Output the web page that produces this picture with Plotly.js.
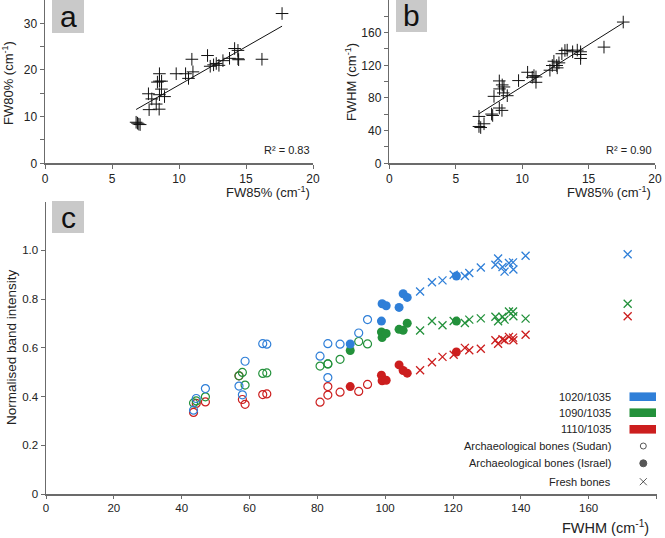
<!DOCTYPE html>
<html>
<head>
<meta charset="utf-8">
<script src="https://cdn.plot.ly/plotly-3.0.1.min.js"></script>
<style>
  html, body { margin: 0; padding: 0; background: #fff; }
  #plot { width: 665px; height: 538px; }
</style>
</head>
<body>
<div id="plot"></div>
<script>
// ---------- panel a : FW80% vs FW85% ----------
const aX = [6.8, 6.9, 7.0, 7.1, 7.72, 7.77, 7.97, 8.30, 8.39, 8.54, 8.54, 8.54, 8.52, 8.69, 8.92, 8.7,
            9.79, 10.49, 10.71, 10.96, 11.04, 12.13, 12.33, 12.58, 12.78, 12.98, 13.28, 13.77,
            14.15, 14.40, 14.40, 14.45, 16.19, 17.69];
const aY = [8.8, 8.6, 8.4, 8.3, 14.9, 11.5, 13.8, 12.7, 17.4, 19.2, 17.6, 14.7, 11.6, 15.9, 14.3, 17.6,
            19.2, 19.2, 18.2, 22.3, 19.6, 23.1, 20.8, 21.1, 21.4, 21.0, 22.0, 22.5,
            24.6, 24.2, 22.4, 22.2, 22.3, 32.1];
const fitA = { slope: 1.64, intercept: 0.38, r2: "0.83" };

// ---------- panel b : FWHM vs FW85% ----------
const bX = [6.75, 6.75, 6.88, 7.13, 7.70, 7.78, 7.88, 8.28, 8.30, 8.28, 8.48, 8.50, 8.58, 8.63, 8.88,
            9.73, 10.41, 10.76, 10.89, 11.04, 11.04, 12.09, 12.27, 12.39, 12.60, 12.64, 12.77,
            12.99, 13.22, 13.39, 13.80, 14.15, 14.40, 14.40, 14.40, 16.16, 17.61];
const bY = [57.4, 45.1, 43.8, 48.4, 60.3, 58.6, 82.0, 100.9, 91.1, 67.7, 64.8, 96.0, 86.2, 93.5, 82.8,
            101.3, 111.5, 105.4, 107.4, 105.8, 99.2, 114.0, 119.8, 125.0, 119.8, 116.9, 123.0,
            134.2, 138.2, 138.6, 136.6, 138.6, 136.6, 133.3, 128.4, 142.3, 173.0];
const fitB = { slope: 10.24, intercept: -8.4, r2: "0.90" };

// ---------- panel c : normalised band intensity vs FWHM ----------
const sudanX    = [43.5, 44.3, 47.0, 56.9, 57.9, 58.7, 63.9, 65.1, 80.8, 83.1, 83.1, 86.7, 92.2, 94.8];
const sudan1020 = [0.344, 0.392, 0.433, 0.443, 0.407, 0.545, 0.617, 0.615, 0.566, 0.617, 0.478, 0.615, 0.661, 0.716];
const sudan1090 = [0.374, 0.382, 0.399, 0.485, 0.499, 0.447, 0.495, 0.497, 0.525, 0.534, 0.534, 0.553, 0.626, 0.616];
const sudan1110 = [0.335, 0.372, 0.378, 0.485, 0.388, 0.368, 0.408, 0.411, 0.377, 0.406, 0.441, 0.418, 0.421, 0.450];

const israelX    = [89.7, 98.9, 99.1, 100.3, 104.1, 105.3, 106.5, 121.0];
const israel1020 = [0.616, 0.710, 0.781, 0.773, 0.766, 0.822, 0.807, 0.895];
const israel1090 = [0.589, 0.665, 0.642, 0.659, 0.676, 0.672, 0.701, 0.710];
const israel1110 = [0.441, 0.488, 0.465, 0.467, 0.530, 0.507, 0.496, 0.583];

const freshX    = [110.3, 113.8, 116.9, 120.2, 123.5, 124.8, 128.2, 132.5, 133.3, 134.6, 135.2, 136.5, 137.7, 137.8, 141.4, 171.5];
const fresh1020 = [0.831, 0.869, 0.877, 0.900, 0.895, 0.907, 0.930, 0.941, 0.967, 0.932, 0.913, 0.948, 0.951, 0.922, 0.978, 0.984];
const fresh1090 = [0.671, 0.710, 0.693, 0.710, 0.702, 0.716, 0.721, 0.728, 0.709, 0.728, 0.716, 0.749, 0.749, 0.730, 0.720, 0.781];
const fresh1110 = [0.508, 0.541, 0.563, 0.572, 0.600, 0.590, 0.596, 0.631, 0.617, 0.635, 0.631, 0.645, 0.642, 0.631, 0.654, 0.730];

const ratioNames = ["1020/1035", "1090/1035", "1110/1035"];
const ratioColors = ["#2f7fd8", "#23913b", "#cc1e1e"];
const groupNames = ["Archaeological bones (Sudan)", "Archaeological bones (Israel)", "Fresh bones"];

// pixel -> paper helpers (margins are zero, so paper == window)
const W = 665, H = 538;
const px = v => v / W;
const py = v => 1 - v / H;

const FONT = "Liberation Sans, Arial, sans-serif";
const AXCOL = "#6b6b6b";
const TXT = "#222";

const traces = [];

// panel a
traces.push({
    x: aX, y: aY, xaxis: "x", yaxis: "y", mode: "markers", type: "scatter",
    marker: { symbol: "cross-thin-open", size: 9, color: "#111", line: { color: "#111", width: 1 } }
});
const aLo = Math.min(...aX), aHi = Math.max(...aX);
traces.push({
    x: [aLo, aHi], y: [aLo, aHi].map(v => fitA.slope * v + fitA.intercept),
    xaxis: "x", yaxis: "y", mode: "lines", type: "scatter",
    line: { color: "#111", width: 1 }
});

// panel b
traces.push({
    x: bX, y: bY, xaxis: "x2", yaxis: "y2", mode: "markers", type: "scatter",
    marker: { symbol: "cross-thin-open", size: 9, color: "#111", line: { color: "#111", width: 1 } }
});
const bLo = Math.min(...bX), bHi = Math.max(...bX);
traces.push({
    x: [bLo, bHi], y: [bLo, bHi].map(v => fitB.slope * v + fitB.intercept),
    xaxis: "x2", yaxis: "y2", mode: "lines", type: "scatter",
    line: { color: "#111", width: 1 }
});

// panel c
const sudanSets = [sudan1020, sudan1090, sudan1110];
const israelSets = [israel1020, israel1090, israel1110];
const freshSets = [fresh1020, fresh1090, fresh1110];

[2, 1, 0].forEach(i => {
    traces.push({
        x: sudanX, y: sudanSets[i], xaxis: "x3", yaxis: "y3", mode: "markers", type: "scatter",
        marker: { symbol: "circle-open", size: 8, color: ratioColors[i], line: { width: 1.2 } }
    });
    traces.push({
        x: israelX, y: israelSets[i], xaxis: "x3", yaxis: "y3", mode: "markers", type: "scatter",
        marker: { symbol: "circle", size: 9, color: ratioColors[i] }
    });
    traces.push({
        x: freshX, y: freshSets[i], xaxis: "x3", yaxis: "y3", mode: "markers", type: "scatter",
        marker: { symbol: "x-thin-open", size: 8, color: ratioColors[i], line: { width: 1.3, color: ratioColors[i] } }
    });
});

// legend symbols on a hidden pixel axis
const legSymX = [643.3, 643.3, 643.3];
const legSymY = [446, 463.3, 481.7];
traces.push({
    x: legSymX, y: legSymY, xaxis: "x4", yaxis: "y4", mode: "markers", type: "scatter",
    marker: {
        symbol: ["circle-open", "circle", "x-thin-open"],
        size: [6, 7, 7], color: "#111",
        line: { width: 1, color: "#111" }
    }
});

const axisBase = {
    showgrid: false, zeroline: false, showline: true, linecolor: AXCOL, linewidth: 1.5,
    ticks: "outside", ticklen: 4, tickwidth: 1, tickcolor: AXCOL,
    tickfont: { family: FONT, size: 12, color: TXT }, fixedrange: true
};

const shapes = [];
const annotations = [];

// panel letters
function panelLabel(letter, x0, x1, y0, y1) {
    shapes.push({
        type: "rect", xref: "paper", yref: "paper",
        x0: px(x0), x1: px(x1), y0: py(y1), y1: py(y0),
        fillcolor: "#c9c9c9", line: { width: 0 }, layer: "below"
    });
    annotations.push({
        xref: "paper", yref: "paper", x: px((x0 + x1) / 2), y: py((y0 + y1) / 2),
        text: letter, showarrow: false, xanchor: "center", yanchor: "middle",
        font: { family: FONT, size: 30, color: "#111" }
    });
}
panelLabel("a", 52, 84, 0, 33);
panelLabel("b", 396, 427, 0, 32);
panelLabel("c", 52, 84, 201, 233);

function note(text, x, y, opts) {
    annotations.push(Object.assign({
        xref: "paper", yref: "paper", x: px(x), y: py(y), text: text, showarrow: false,
        xanchor: "center", yanchor: "middle",
        font: { family: FONT, size: 13, color: TXT }
    }, opts || {}));
}

// axis titles
note("FW80% (cm<sup>-1</sup>)", 8, 83, { textangle: -90 });
note("FW85% (cm<sup>-1</sup>)", 312, 192, { xanchor: "right" });
note("FWHM (cm<sup>-1</sup>)", 351, 82, { textangle: -90 });
note("FW85% (cm<sup>-1</sup>)", 653, 192, { xanchor: "right" });
note("Normalised band intensity", 11, 347, { textangle: -90, font: { family: FONT, size: 13.5, color: TXT } });
note("FWHM (cm<sup>-1</sup>)", 651, 527, { xanchor: "right", font: { family: FONT, size: 14.5, color: TXT } });

// R²
note("R² = " + fitA.r2, 312, 150, { xanchor: "right", font: { family: FONT, size: 11, color: TXT } });
note("R² = " + fitB.r2, 654, 150, { xanchor: "right", font: { family: FONT, size: 11, color: TXT } });

// panel c legend
const swatchY = [396.7, 412.7, 429.3];
ratioNames.forEach((name, i) => {
    note(name, 613, swatchY[i], { xanchor: "right", font: { family: FONT, size: 11, color: TXT } });
    shapes.push({
        type: "rect", xref: "paper", yref: "paper",
        x0: px(629.5), x1: px(656), y0: py(swatchY[i] + 4.3), y1: py(swatchY[i] - 4.3),
        fillcolor: ratioColors[i], line: { width: 0 }
    });
});
groupNames.forEach((name, i) => {
    note(name, 613, legSymY[i], { xanchor: "right", font: { family: FONT, size: 11, color: TXT } });
});

const layout = {
    width: W, height: H, autosize: false,
    margin: { l: 0, r: 0, t: 0, b: 0, pad: 0 },
    paper_bgcolor: "#fff", plot_bgcolor: "rgba(0,0,0,0)",
    showlegend: false,
    font: { family: FONT, color: TXT },
    xaxis: Object.assign({}, axisBase, {
        domain: [px(45), px(313)], range: [0, 20], tickvals: [0, 5, 10, 15, 20], anchor: "y"
    }),
    yaxis: Object.assign({}, axisBase, {
        domain: [py(163.3), py(0)], range: [0, 35],
        tickvals: [0, 5, 10, 15, 20, 25, 30], ticktext: ["0", "", "10", "", "20", "", "30"], anchor: "x"
    }),
    xaxis2: Object.assign({}, axisBase, {
        domain: [px(389.3), px(655)], range: [0, 20], tickvals: [0, 5, 10, 15, 20], anchor: "y2"
    }),
    yaxis2: Object.assign({}, axisBase, {
        domain: [py(163.3), py(0)], range: [0, 200],
        tickvals: [0, 20, 40, 60, 80, 100, 120, 140, 160, 180],
        ticktext: ["0", "", "40", "", "80", "", "120", "", "160", ""], anchor: "x2"
    }),
    xaxis3: Object.assign({}, axisBase, {
        domain: [px(46), px(656.5)], range: [0, 180], ticklen: 3,
        tickvals: [0, 20, 40, 60, 80, 100, 120, 140, 160, 180], anchor: "y3",
        tickfont: { family: FONT, size: 11.5, color: TXT }
    }),
    yaxis3: Object.assign({}, axisBase, {
        domain: [py(494), py(201.7)], range: [0, 1.2],
        tickvals: [0, 0.2, 0.4, 0.6, 0.8, 1.0], ticktext: ["0", "0.2", "0.4", "0.6", "0.8", "1.0"],
        anchor: "x3", tickfont: { family: FONT, size: 11.5, color: TXT }
    }),
    xaxis4: { domain: [0, 1], range: [0, W], visible: false, fixedrange: true, anchor: "y4" },
    yaxis4: { domain: [0, 1], range: [H, 0], visible: false, fixedrange: true, anchor: "x4" },
    shapes: shapes,
    annotations: annotations
};

Plotly.newPlot("plot", traces, layout, { staticPlot: true, displayModeBar: false });
</script>
</body>
</html>
